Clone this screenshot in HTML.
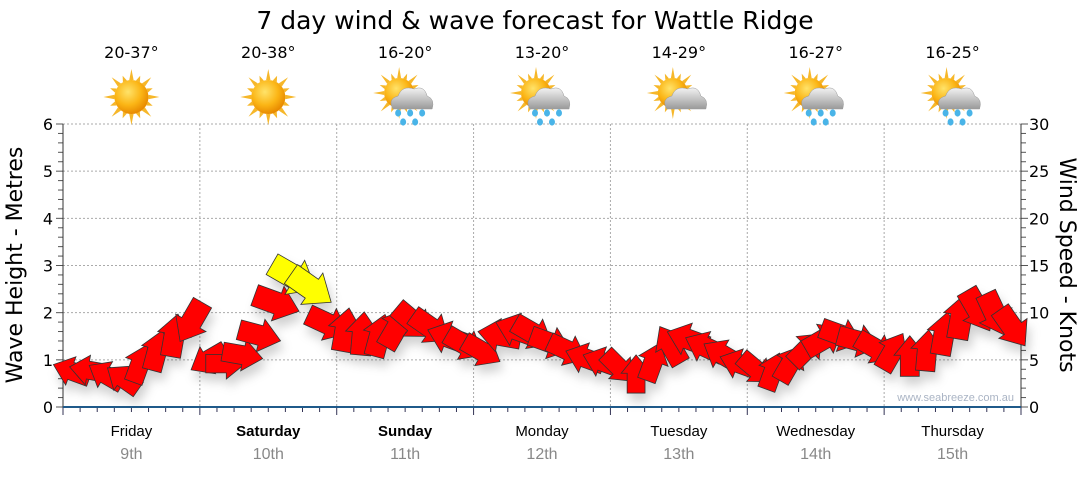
<!DOCTYPE html>
<html><head><meta charset="utf-8"><style>
body{margin:0;background:#fff;width:1080px;height:475px;overflow:hidden;font-family:"Liberation Sans","DejaVu Sans",sans-serif}
</style></head><body>
<svg id="chart" width="1080" height="475" xmlns="http://www.w3.org/2000/svg" font-family="Liberation Sans, DejaVu Sans, sans-serif">
<defs>
<radialGradient id="sunG" cx="40%" cy="35%" r="65%"><stop offset="0" stop-color="#ffe36a"/><stop offset="0.6" stop-color="#fbb515"/><stop offset="1" stop-color="#e88a00"/></radialGradient>
<linearGradient id="cloudG" x1="0" y1="0" x2="0" y2="1"><stop offset="0" stop-color="#f2f2f2"/><stop offset="1" stop-color="#9a9a9a"/></linearGradient>
<filter id="sh" x="-30%" y="-30%" width="160%" height="180%"><feDropShadow dx="3" dy="8" stdDeviation="5" flood-color="#000" flood-opacity="0.18"/></filter>
</defs>
<text x="535" y="29" font-size="25" text-anchor="middle" font-family="DejaVu Sans, sans-serif" fill="#000">7 day wind &amp; wave forecast for Wattle Ridge</text>
<g id="grid"></g>
<g id="axes"></g>
<g id="icons"></g>
<g id="arrows" filter="url(#sh)"></g>
<text transform="translate(22,265) rotate(-90)" font-size="22" text-anchor="middle" font-family="DejaVu Sans, sans-serif">Wave Height - Metres</text>
<text transform="translate(1060,265) rotate(90)" font-size="22" text-anchor="middle" font-family="DejaVu Sans, sans-serif">Wind Speed - Knots</text>
<text x="1014" y="401" font-size="11" text-anchor="end" fill="#aab4c4">www.seabreeze.com.au</text>
</svg>
<script>
const days=["Friday","Saturday","Sunday","Monday","Tuesday","Wednesday","Thursday"];
const dates=["9th","10th","11th","12th","13th","14th","15th"];
const temps=["20-37°","20-38°","16-20°","13-20°","14-29°","16-27°","16-25°"];
const icons=["sun","sun","rain","rain","cloud","rain","rain"];
const waveTicks=[0,1,2,3,4,5,6];
const windTicks=[0,5,10,15,20,25,30];
// wind speed (knots), 3-hourly from Friday 00:00
const knots=[3.8,3.9,3.4,3.0,4.6,6.0,7.6,9.0, 5.0,4.6,5.5,7.6,11.0,13.8,12.6,8.8, 8.2,7.8,7.6,8.4,9.0,8.4,7.4,6.6, 5.9,7.6,8.2,7.8,6.8,6.0,5.2,4.8, 4.2,3.5,4.8,6.6,7.2,6.4,5.6,4.6, 4.0,3.8,4.6,6.2,7.2,7.6,7.0,6.2, 5.9,5.4,6.0,7.8,9.6,10.2,9.8,8.4];
// direction the arrow points (deg, 0=right, clockwise)
const dirs=[200,190,210,215,-70,-75,-80,120, 150,0,10,15,20,30,35,25, -80,-85,-75,-60,40,35,-160,30, 30,-170,-160,30,20,25,-160,200, 45,-90,-70,-120,200,205,210,200, 40,-70,-60,-45,-30,20,15,30, -60,-90,-85,-80,-80,60,65,55];
const X0=63,X1=1021,Y0=407,Y1=124,NS="http://www.w3.org/2000/svg";
const dayW=(X1-X0)/7;
const xs=i=>X0+i*dayW/8+dayW/16;
const yWave=v=>Y0-(Y0-Y1)*v/6;
const yWind=v=>Y0-(Y0-Y1)*v/30;
function mk(tag,attrs,parent){const e=document.createElementNS(NS,tag);for(const k in attrs)e.setAttribute(k,attrs[k]);parent.appendChild(e);return e;}
const grid=document.getElementById('grid'),axes=document.getElementById('axes'),ic=document.getElementById('icons'),ar=document.getElementById('arrows');
waveTicks.forEach(v=>{if(v>0){const l=mk('line',{x1:X0,x2:X1,y1:yWave(v),y2:yWave(v),stroke:'#aaa','stroke-dasharray':'2,2'},grid);

}
const t=mk('text',{x:X0-10,y:yWave(v)+6,'font-size':16,'text-anchor':'end','font-family':'DejaVu Sans, sans-serif'},axes);t.textContent=v;

});
windTicks.forEach(v=>{const t=mk('text',{x:X1+8,y:yWind(v)+6,'font-size':16,'font-family':'DejaVu Sans, sans-serif'},axes);t.textContent=v;

});
for(let i=0;i<=30;i++){const y=Y0-(Y0-Y1)*i/30;mk('line',{x1:X0-(i%5?5:7),x2:X0,y1:y,y2:y,stroke:'#555'},axes);mk('line',{x1:X1,x2:X1+(i%5?5:7),y1:y,y2:y,stroke:'#555'},axes);}
mk('line',{x1:X0,x2:X0,y1:Y1,y2:Y0,stroke:'#333'},axes);mk('line',{x1:X1,x2:X1,y1:Y1,y2:Y0,stroke:'#333'},axes);
for(let d=1;d<7;d++){const x=X0+d*dayW;const l=mk('line',{x1:x,x2:x,y1:Y1,y2:Y0,stroke:'#aaa','stroke-dasharray':'2,2'},grid);

}
for(let i=0;i<=56;i++){const x=X0+i*dayW/8;mk('line',{x1:x,x2:x,y1:Y0,y2:Y0+(i%8?5:8),stroke:'#335'},axes);}
mk('line',{x1:X0,x2:X1,y1:Y0,y2:Y0,stroke:'#1f5a8a','stroke-width':2},axes);
days.forEach((d,i)=>{const cx=X0+(i+0.5)*dayW;
const t=mk('text',{x:cx,y:436,'font-size':15,'text-anchor':'middle','font-weight':(i==1||i==2)?'bold':'normal'},axes);t.textContent=d;


const t2=mk('text',{x:cx,y:459,'font-size':16,'text-anchor':'middle',fill:'#888'},axes);t2.textContent=dates[i];


const t3=mk('text',{x:cx,y:58,'font-size':16,'text-anchor':'middle','font-family':'DejaVu Sans, sans-serif'},ic);t3.textContent=temps[i];


const g=mk('g',{transform:`translate(${cx},97)`},ic);


const sun=icons[i]=='sun';const sx=sun?0:-6,sy=sun?0:-4,r=sun?17:15;
for(let k=0;k<16;k++){const a=k*Math.PI/8,L=(k%2?r+6:r+11);mk('polygon',{points:`${sx+Math.cos(a-0.13)*r},${sy+Math.sin(a-0.13)*r} ${sx+Math.cos(a)*L},${sy+Math.sin(a)*L} ${sx+Math.cos(a+0.13)*r},${sy+Math.sin(a+0.13)*r}`,fill:'#f6b72a'},g);}
mk('circle',{cx:sx,cy:sy,r:r,fill:'url(#sunG)'},g);
if(!sun){mk('path',{d:'M-12,12 Q-18,2 -7,-1 Q-3,-12 9,-8 Q19,-12 22,-1 Q30,2 27,12 Z',fill:'url(#cloudG)',stroke:'#999','stroke-width':0.5},g);
if(icons[i]=='rain'){[[-7,16],[5,16],[17,16],[-2,25],[10,25]].forEach(p=>mk('ellipse',{cx:p[0],cy:p[1],rx:3,ry:3.6,fill:'#49b4e8'},g));}}
});
knots.forEach((k,i)=>{const x=xs(i),y=yWind(k);const L=34+k*1.2,W=L*0.78;
const p=mk('polygon',{points:`${-L/2},${-W*0.3} ${L*0.02},${-W*0.3} ${L*0.02},${-W/2} ${L/2},0 ${L*0.02},${W/2} ${L*0.02},${W*0.3} ${-L/2},${W*0.3}`,
fill:k>=12?'#ffff00':'#ff0000',stroke:'#333','stroke-width':0.8,transform:`translate(${x},${y}) rotate(${dirs[i]})`},ar);

});
</script>
</body></html>
